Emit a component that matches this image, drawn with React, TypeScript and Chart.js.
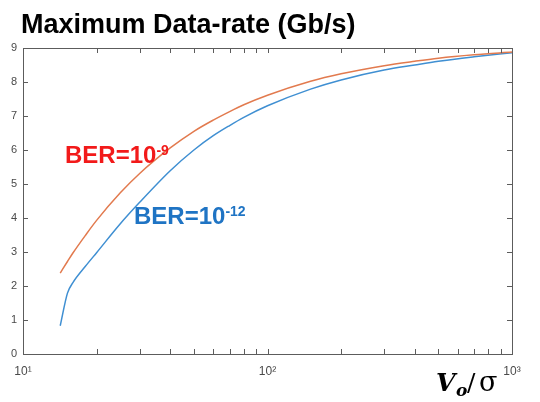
import React, { useEffect, useRef } from "react";
import { Chart, registerables } from "chart.js";

Chart.register(...registerables);

const xValues = [14.2, 15.2, 16, 18, 20, 25, 30, 40, 50, 60, 70, 80, 100, 150, 200, 300, 400, 500, 700, 1000];
const ber9Values = [2.38, 2.72, 2.97, 3.49, 3.93, 4.74, 5.31, 6.06, 6.55, 6.88, 7.13, 7.33, 7.61, 8.02, 8.24, 8.48, 8.61, 8.7, 8.8, 8.88];
const ber12Values = [0.83, 1.79, 2.1, 2.58, 2.98, 3.83, 4.46, 5.39, 6.0, 6.42, 6.72, 6.96, 7.3, 7.79, 8.06, 8.35, 8.5, 8.61, 8.74, 8.86];
const xMajorTicks = [10, 100, 1000];
const xTickLabels = ["10¹", "10²", "10³"];
const xMinorTicks = [20, 30, 40, 50, 60, 70, 80, 90, 200, 300, 400, 500, 600, 700, 800, 900];
const yTicks = [0, 1, 2, 3, 4, 5, 6, 7, 8, 9];
const title = "Maximum Data-rate (Gb/s)";

const framePlugin = {
  id: "frameAndText",
  afterDraw(chart: any) {
    const { ctx, chartArea: a, scales } = chart;
    const xs = scales.x;
    const ys = scales.y;
    ctx.save();
    ctx.strokeStyle = "#5c5c5c";
    ctx.lineWidth = 1;
    ctx.strokeRect(Math.round(a.left) + 0.5, Math.round(a.top) + 0.5, Math.round(a.right - a.left), Math.round(a.bottom - a.top));
    ctx.beginPath();
    const tl = 5;
    [...xMajorTicks, ...xMinorTicks].forEach((v) => {
      const px = Math.round(xs.getPixelForValue(v)) + 0.5;
      ctx.moveTo(px, a.bottom);
      ctx.lineTo(px, a.bottom - tl);
      ctx.moveTo(px, a.top);
      ctx.lineTo(px, a.top + tl);
    });
    yTicks.forEach((v) => {
      const py = Math.round(ys.getPixelForValue(v)) + 0.5;
      ctx.moveTo(a.left, py);
      ctx.lineTo(a.left + tl, py);
      ctx.moveTo(a.right, py);
      ctx.lineTo(a.right - tl, py);
    });
    ctx.stroke();

    // title
    ctx.fillStyle = "#000";
    ctx.font = "bold 27px 'Liberation Sans', Arial, sans-serif";
    ctx.textBaseline = "alphabetic";
    ctx.textAlign = "left";
    ctx.fillText(title, 21, 33);

    // annotations
    const drawBer = (exp: string, x: number, y: number, color: string) => {
      ctx.fillStyle = color;
      ctx.font = "bold 24px 'Liberation Sans', Arial, sans-serif";
      ctx.fillText("BER=10", x, y);
      const w = ctx.measureText("BER=10").width;
      ctx.font = "bold 14px 'Liberation Sans', Arial, sans-serif";
      ctx.fillText(exp, x + w, y - 8);
    };
    drawBer("-9", 65, 163, "#f21a1a");
    drawBer("-12", 134, 224, "#1f74c4");

    // x-axis title
    ctx.fillStyle = "#000";
    ctx.font = "bold italic 25px 'DejaVu Serif', 'Liberation Serif', serif";
    ctx.fillText("V", 436, 391);
    ctx.font = "bold italic 17px 'DejaVu Serif', 'Liberation Serif', serif";
    ctx.fillText("o", 456, 396);
    ctx.font = "25px 'DejaVu Serif', 'Liberation Serif', serif";
    ctx.fillText("/", 467, 391);
    ctx.font = "27px 'DejaVu Serif', 'Liberation Serif', serif";
    ctx.fillText("σ", 479, 391);
    ctx.restore();
  },
};

export default function App() {
  const ref = useRef<HTMLCanvasElement | null>(null);
  useEffect(() => {
    if (!ref.current) return;
    const chart = new Chart(ref.current, {
      type: "line",
      data: {
        datasets: [
          {
            label: "BER=1e-9",
            data: xValues.map((x, i) => ({ x, y: ber9Values[i] })),
            borderColor: "#e27a4e",
            borderWidth: 1.5,
            pointRadius: 0,
            cubicInterpolationMode: "monotone",
            fill: false,
          },
          {
            label: "BER=1e-12",
            data: xValues.map((x, i) => ({ x, y: ber12Values[i] })),
            borderColor: "#3f8fd2",
            borderWidth: 1.5,
            pointRadius: 0,
            cubicInterpolationMode: "monotone",
            fill: false,
          },
        ],
      },
      options: {
        animation: false,
        responsive: false,
        layout: { padding: { top: 48, right: 28, left: 0, bottom: 0 } },
        plugins: { legend: { display: false }, tooltip: { enabled: false }, title: { display: false } },
        scales: {
          x: {
            type: "logarithmic",
            min: 10,
            max: 1000,
            grid: { display: false, drawTicks: false },
            border: { display: false },
            afterBuildTicks: (scale: any) => {
              scale.ticks = xMajorTicks.map((v) => ({ value: v }));
            },
            afterFit: (scale: any) => {
              scale.height = 48;
            },
            ticks: {
              padding: 10,
              maxRotation: 0,
              autoSkip: false,
              color: "#4a4a4a",
              font: { size: 12, family: "'Liberation Sans', Arial, sans-serif" },
              callback: (v: any) => {
                const i = xMajorTicks.indexOf(Number(v));
                return i >= 0 ? xTickLabels[i] : "";
              },
            },
          },
          y: {
            min: 0,
            max: 9,
            grid: { display: false, drawTicks: false },
            border: { display: false },
            afterBuildTicks: (scale: any) => {
              scale.ticks = yTicks.map((v) => ({ value: v }));
            },
            afterFit: (scale: any) => {
              scale.width = 23;
            },
            ticks: {
              padding: 6,
              color: "#4a4a4a",
              font: { size: 11, family: "'Liberation Sans', Arial, sans-serif" },
            },
          },
        },
      },
      plugins: [framePlugin],
    } as any);
    return () => chart.destroy();
  }, []);
  return (
    <div style={{ position: "absolute", left: 0, top: 0, width: 540, height: 402, background: "#fff" }}>
      <canvas ref={ref} width={540} height={402} style={{ display: "block" }} />
    </div>
  );
}
